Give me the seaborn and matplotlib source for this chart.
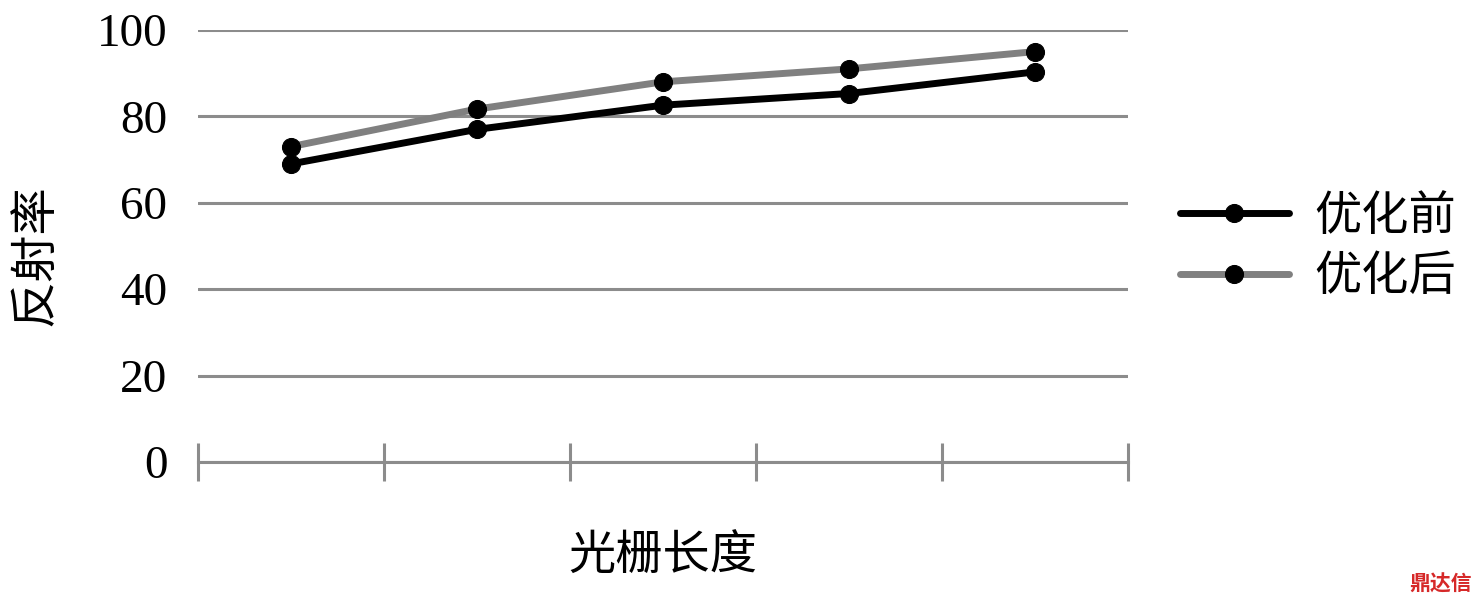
import matplotlib
matplotlib.use("Agg")
import matplotlib.pyplot as plt
import numpy as np
import pandas as pd
import seaborn as sns

# grating length points (no tick labels shown on the original)
grating_points = [0, 1, 2, 3, 4]
before_opt = [69.0, 77.0, 82.6, 85.3, 90.3]
after_opt = [73.0, 81.7, 88.0, 91.0, 95.0]
series_names = ["优化前", "优化后"]
y_ticks = [0, 20, 40, 60, 80, 100]

GRID = "#8c8c8c"


def main():
    sns.set_theme(style="white")
    plt.rcParams["font.family"] = ["Liberation Serif", "Noto Sans CJK SC", "DejaVu Sans"]
    plt.rcParams["text.color"] = "black"
    plt.rcParams["axes.labelcolor"] = "black"
    plt.rcParams["ytick.color"] = "black"

    df = pd.DataFrame({
        "pos": grating_points * 2,
        "value": before_opt + after_opt,
        "series": [series_names[0]] * len(before_opt) + [series_names[1]] * len(after_opt),
    })

    fig = plt.figure(figsize=(14.79, 6.07), dpi=100)
    ax = fig.add_axes([198 / 1479, 1 - 462 / 607, 930 / 1479, 432 / 607])

    sns.lineplot(
        data=df, x="pos", y="value", hue="series", hue_order=series_names,
        palette={series_names[0]: "black", series_names[1]: "#808080"},
        marker="o", markersize=13, linewidth=5,
        markerfacecolor="black", markeredgecolor="black",
        ax=ax, zorder=3,
    )

    ax.set_xlim(-0.5, len(grating_points) - 0.5)
    ax.set_ylim(0, 100)
    ax.set_yticks(y_ticks)
    ax.set_xticks(np.arange(-0.5, len(grating_points), 1))
    ax.set_xticklabels([])
    ax.tick_params(axis="x", bottom=True, direction="inout", length=28, width=2.2, color=GRID)
    ax.tick_params(axis="y", left=False, length=0, pad=22, labelsize=34, labelcolor="black")

    ax.yaxis.grid(True, color=GRID, lw=2.2)
    ax.set_axisbelow(True)
    for s in ["top", "right", "left"]:
        ax.spines[s].set_visible(False)
    ax.spines["bottom"].set_color(GRID)
    ax.spines["bottom"].set_linewidth(2.2)

    ax.set_xlabel("光栅长度", fontsize=34, color="black")
    ax.xaxis.set_label_coords(0.5, -0.17)
    ax.set_ylabel("反射率", fontsize=34, color="black")
    ax.yaxis.set_label_coords(-0.15, 0.48)

    handles, labels = ax.get_legend_handles_labels()
    for h in handles:
        h.set_markerfacecolor("black")
        h.set_markeredgecolor("black")
        h.set_marker("o")
        h.set_markersize(13)
        h.set_linewidth(5)
    leg = ax.legend(
        handles, labels, loc="center left",
        bbox_to_anchor=(1180 / 1479, 1 - 248 / 607), bbox_transform=fig.transFigure,
        frameon=False, fontsize=34, handlelength=2.3, handletextpad=0.55,
        labelspacing=0.35, borderpad=0, borderaxespad=0,
    )
    for t in leg.get_texts():
        t.set_color("black")

    fig.text(0.995, 0.02, "鼎达信", color="#d62828", fontsize=15,
             fontweight="bold", ha="right", va="bottom", family=["Noto Sans CJK SC"])

    fig.savefig("out.png", dpi=100)


if __name__ == "__main__":
    main()
